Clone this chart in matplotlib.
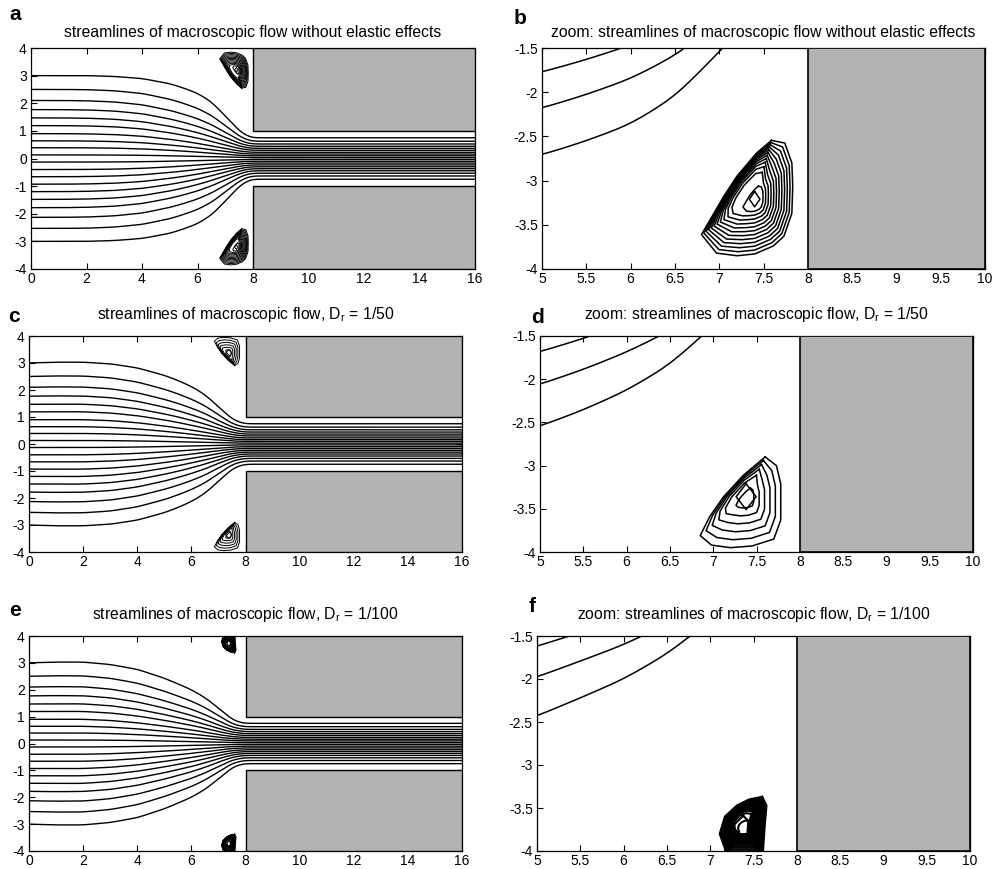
import numpy as np
import matplotlib
matplotlib.use('Agg')
import matplotlib.pyplot as plt
from matplotlib.patches import Rectangle

plt.rcParams['font.family'] = ['Liberation Sans', 'DejaVu Sans']
plt.rcParams['axes.unicode_minus'] = False
plt.rcParams['mathtext.fontset'] = 'custom'
plt.rcParams['mathtext.rm'] = 'Liberation Sans'
plt.rcParams['mathtext.it'] = 'Liberation Sans'

# ---------------- data ----------------
# inlet heights of the 20 streamlines
inlet_y = [3.0, 2.5, 2.1, 1.77, 1.47, 1.19, 0.9, 0.64, 0.39, 0.13,
           -0.13, -0.4, -0.66, -0.93, -1.2, -1.48, -1.78, -2.13, -2.53, -3.0]

# contraction ratio y(x)/y_inlet along the channel, outermost and innermost lines
x_profile = [0, 1, 2, 3, 4, 5, 5.5, 6, 6.5, 7, 7.5, 7.8, 8, 16]
ratio_outer_a = [1.0, 1.0, 1.0, 0.99, 0.965, 0.903, 0.85, 0.787, 0.683, 0.515, 0.335, 0.27, 0.25, 0.25]
ratio_inner_a = [1.0, 1.0, 0.99, 0.96, 0.89, 0.76, 0.68, 0.59, 0.49, 0.39, 0.30, 0.26, 0.25, 0.25]
ratio_outer_c = [1.0, 1.01, 1.01, 0.99, 0.94, 0.848, 0.785, 0.71, 0.61, 0.46, 0.31, 0.265, 0.25, 0.25]
ratio_inner_c = [1.0, 1.005, 1.0, 0.96, 0.87, 0.73, 0.65, 0.56, 0.47, 0.37, 0.29, 0.26, 0.25, 0.25]
ratio_outer_e = [1.0, 1.01, 1.01, 0.98, 0.92, 0.81, 0.74, 0.667, 0.57, 0.44, 0.30, 0.26, 0.25, 0.25]
ratio_inner_e = [1.0, 1.005, 1.0, 0.95, 0.85, 0.71, 0.63, 0.55, 0.46, 0.36, 0.285, 0.26, 0.25, 0.25]

# corner vortex (lower corner; upper one is its mirror image)
vortex_a_x = [7.59, 7.74, 7.82, 7.83, 7.82, 7.73, 7.61, 7.40, 7.20, 6.97, 6.80, 6.94, 7.05, 7.20, 7.42]
vortex_a_y = [-2.545, -2.575, -2.80, -3.06, -3.37, -3.63, -3.74, -3.83, -3.85, -3.82, -3.61, -3.37, -3.18, -2.95, -2.69]
vortex_a_center = [7.40, -3.21]
vortex_a_core = [0.06, 0.087]
vortex_a_levels = 12

vortex_c_x = [7.60, 7.73, 7.78, 7.78, 7.70, 7.45, 7.20, 6.98, 6.85, 6.96, 7.12, 7.35]
vortex_c_y = [-2.90, -3.00, -3.21, -3.63, -3.85, -3.93, -3.95, -3.92, -3.81, -3.59, -3.36, -3.11]
vortex_c_center = [7.38, -3.36]
vortex_c_core = [0.115, 0.15]
vortex_c_levels = 6

vortex_e_x = [7.60, 7.65, 7.63, 7.61, 7.60, 7.18, 7.17, 7.11, 7.17, 7.31, 7.45]
vortex_e_y = [-3.37, -3.47, -3.70, -4.0, -4.1, -4.1, -3.97, -3.80, -3.60, -3.47, -3.40]
vortex_e_center = [7.38, -3.72]
vortex_e_core = [0.13, 0.13]
vortex_e_levels = 14

titles = ['streamlines of macroscopic flow without elastic effects',
          'zoom: streamlines of macroscopic flow without elastic effects',
          r'streamlines of macroscopic flow, D$_\mathregular{r}$ = 1/50',
          r'zoom: streamlines of macroscopic flow, D$_\mathregular{r}$ = 1/50',
          r'streamlines of macroscopic flow, D$_\mathregular{r}$ = 1/100',
          r'zoom: streamlines of macroscopic flow, D$_\mathregular{r}$ = 1/100']
letters = ['a', 'b', 'c', 'd', 'e', 'f']

# ---------------- style ----------------
vortex_a_bend = [0.5, 1, 1, 1, 1, 1, 1, 1, 1, 0.9, 0.6, 0.35, 0.3, 0.3, 0.35]
vortex_c_bend = [0.55, 1, 1, 1, 1, 1, 1, 1, 0.8, 0.5, 0.4, 0.4]
vortex_e_bend = [0.5, 1, 1, 1, 1, 1, 1, 0.7, 0.4, 0.35, 0.4]
vortex_inner_scale = 0.22

W, H = 993, 869
fig = plt.figure(figsize=(W / 100, H / 100), dpi=100)
GRAY = '#b3b3b3'


def px_axes(l, r, t, b):
    return fig.add_axes([l / W, 1 - b / H, (r - l) / W, (b - t) / H])


def smooth(v, n=14):
    k = np.exp(-0.5 * (np.arange(-3 * n, 3 * n + 1) / n) ** 2)
    k /= k.sum()
    vp = np.concatenate([np.full(3 * n, v[0]), v, np.full(3 * n, v[-1])])
    return np.convolve(vp, k, mode='valid')


def draw_streamlines(ax, r_out, r_in, lw):
    xs = np.linspace(0, 16, 1601)
    ro = np.interp(xs, x_profile, r_out)
    ri = np.interp(xs, x_profile, r_in)
    for y0 in inlet_y:
        w = min(1.0, (abs(y0) / 3.0)) ** 2
        r = smooth(ri + w * (ro - ri))
        ax.plot(xs, y0 * r, color='k', lw=lw, zorder=2)


def draw_vortex(ax, vx, vy, center, core, nlev, bend, lw, mirror=False):
    vx = np.array(vx + vx[:1], float)
    vy = np.array(vy + vy[:1], float)
    e = np.array(bend + bend[:1], float)
    cx, cy = center
    ix = cx + vortex_inner_scale * (vx - cx)
    iy = cy + vortex_inner_scale * (vy - cy)
    s = -1 if mirror else 1
    for t in np.linspace(1.0, 0.0, nlev):
        g = t ** e
        ax.plot(ix + g * (vx - ix), s * (iy + g * (vy - iy)), color='k', lw=lw, zorder=2)
    dx, dy = core
    ax.plot([cx, cx + dx, cx, cx - dx, cx], s * np.array([cy + dy, cy, cy - dy, cy, cy + dy]),
            color='k', lw=lw, zorder=2)


def style(ax, xlim, ylim, xt, yt, xl, yl):
    ax.set_xlim(*xlim)
    ax.set_ylim(*ylim)
    ax.set_xticks(xt)
    ax.set_xticklabels(xl)
    ax.set_yticks(yt)
    ax.set_yticklabels(yl)
    ax.tick_params(direction='in', top=True, right=True, length=4, width=0.8,
                   labelsize=10, pad=3)
    ax.tick_params(axis='x', pad=2)
    for sp in ax.spines.values():
        sp.set_linewidth(0.9)


left_boxes = [(31, 475, 48, 269), (29, 462, 336, 552), (29, 462, 636, 851)]
right_boxes = [(542, 985, 48, 269), (540, 973, 336, 552), (537, 970, 636, 851)]
ratios = [(ratio_outer_a, ratio_inner_a), (ratio_outer_c, ratio_inner_c), (ratio_outer_e, ratio_inner_e)]
vortices = [(vortex_a_x, vortex_a_y, vortex_a_center, vortex_a_core, vortex_a_levels, vortex_a_bend),
            (vortex_c_x, vortex_c_y, vortex_c_center, vortex_c_core, vortex_c_levels, vortex_c_bend),
            (vortex_e_x, vortex_e_y, vortex_e_center, vortex_e_core, vortex_e_levels, vortex_e_bend)]
title_y = [33, 315, 615]
letter_pos = [[(15, 15), (520, 19)], [(14, 316), (537, 317)], [(15, 610), (532, 607)]]

xl_left = list(range(0, 17, 2))
yl_left = list(range(-4, 5))
xl_right = [5, 5.5, 6, 6.5, 7, 7.5, 8, 8.5, 9, 9.5, 10]
yl_right = [-4, -3.5, -3, -2.5, -2, -1.5]

for row in range(3):
    r_out, r_in = ratios[row]
    vx, vy, vc, vcore, vn, vb = vortices[row]
    # left: full channel
    ax = px_axes(*left_boxes[row])
    ax.add_patch(Rectangle((8, 1), 8, 3, facecolor=GRAY, edgecolor='k', lw=1.0, zorder=3))
    ax.add_patch(Rectangle((8, -4), 8, 3, facecolor=GRAY, edgecolor='k', lw=1.0, zorder=3))
    draw_streamlines(ax, r_out, r_in, lw=1.0)
    draw_vortex(ax, vx, vy, vc, vcore, vn, vb, lw=0.7)
    draw_vortex(ax, vx, vy, vc, vcore, vn, vb, lw=0.7, mirror=True)
    style(ax, (0, 16), (-4, 4), xl_left, yl_left,
          [str(v) for v in xl_left], [str(v) for v in yl_left])
    l, r, t, b = left_boxes[row]
    fig.text((l + r) / 2 / W, 1 - title_y[row] / H, titles[2 * row], ha='center', va='center', fontsize=11.3)
    fig.text(letter_pos[row][0][0] / W, 1 - letter_pos[row][0][1] / H, letters[2 * row],
             ha='center', va='center', fontsize=15, fontweight='bold')

    # right: zoom on lower corner
    ax = px_axes(*right_boxes[row])
    ax.add_patch(Rectangle((8, -4), 2, 2.5, facecolor=GRAY, edgecolor='k', lw=1.2, zorder=3))
    draw_streamlines(ax, r_out, r_in, lw=1.1)
    draw_vortex(ax, vx, vy, vc, vcore, vn, vb, lw=1.1 if row < 2 else 1.5)
    style(ax, (5, 10), (-4, -1.5), xl_right, yl_right,
          [f'{v:g}' for v in xl_right], [f'{v:g}' for v in yl_right])
    l, r, t, b = right_boxes[row]
    fig.text((l + r) / 2 / W, 1 - title_y[row] / H, titles[2 * row + 1], ha='center', va='center', fontsize=11.3)
    fig.text(letter_pos[row][1][0] / W, 1 - letter_pos[row][1][1] / H, letters[2 * row + 1],
             ha='center', va='center', fontsize=15, fontweight='bold')

fig.savefig('out.png', dpi=100, facecolor='white')
